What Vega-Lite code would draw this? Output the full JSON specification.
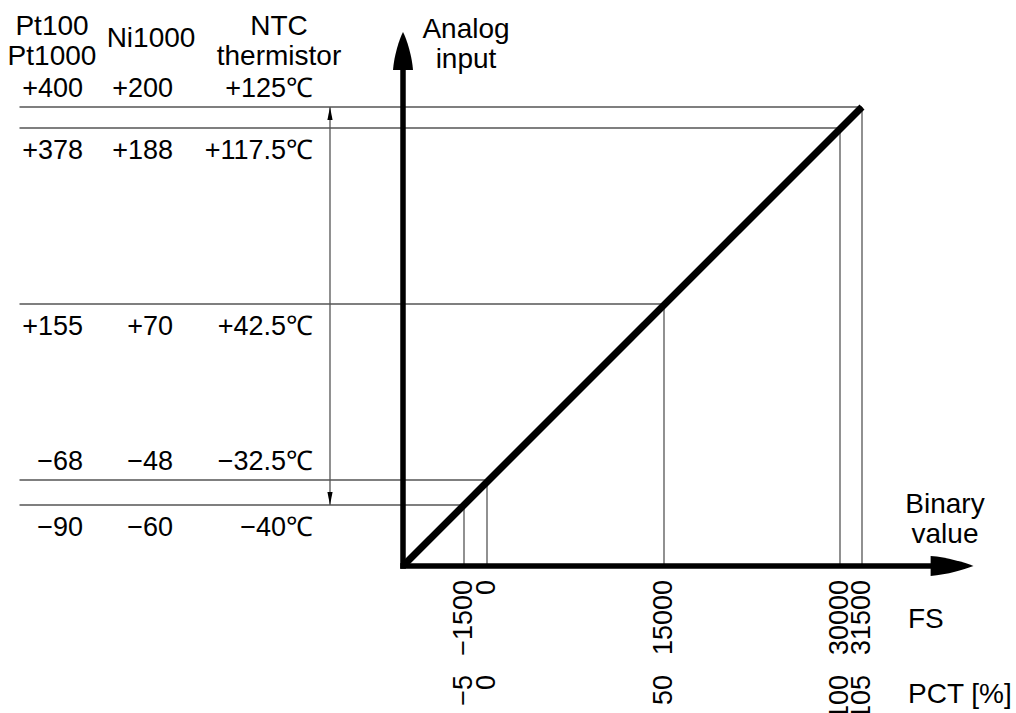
{
  "$schema": "https://vega.github.io/schema/vega-lite/v6.json",
  "width": 1016,
  "height": 713,
  "autosize": {"type": "fit", "contains": "padding"},
  "padding": 0,
  "background": "white",
  "view": {"stroke": null},
  "config": {"text": {"font": "Liberation Sans", "fontSize": 27, "color": "black"}},
  "datasets": {
    "levels": [
      {"fs": 31500, "pct": 105, "pt": "+400", "ni": "+200", "ntc": "+125℃"},
      {"fs": 30000, "pct": 100, "pt": "+378", "ni": "+188", "ntc": "+117.5℃"},
      {"fs": 15000, "pct": 50, "pt": "+155", "ni": "+70", "ntc": "+42.5℃"},
      {"fs": 0, "pct": 0, "pt": "−68", "ni": "−48", "ntc": "−32.5℃"},
      {"fs": -1500, "pct": -5, "pt": "−90", "ni": "−60", "ntc": "−40℃"}
    ]
  },
  "data": {"name": "levels"},
  "layer": [
    {
      "mark": {"type": "rule", "stroke": "#555", "strokeWidth": 1.3},
      "encoding": {
        "x": {"field": "fs", "type": "quantitative", "scale": {"domain": [-41387, -7139, -1500, 0, 15000, 30000, 31500, 44588], "range": [0, 403, 464, 487, 664, 840, 862, 1016], "nice": false, "zero": false}, "axis": null},
        "x2": {"datum": -39730},
        "y": {"field": "fs", "type": "quantitative", "scale": {"domain": [-19632, -7139, -1500, 0, 15000, 30000, 31500, 40593], "range": [713, 566, 505, 480, 304, 128, 107, 0], "nice": false, "zero": false}, "axis": null}
      }
    },
    {
      "mark": {"type": "rule", "stroke": "#555", "strokeWidth": 1.3},
      "encoding": {
        "x": {"field": "fs", "type": "quantitative", "axis": null},
        "y": {"field": "fs", "type": "quantitative", "axis": null},
        "y2": {"datum": -7139}
      }
    },
    {
      "data": {"values": [{}]},
      "mark": {"type": "rule", "stroke": "#555", "strokeWidth": 1.3},
      "encoding": {
        "x": {"datum": -13343, "type": "quantitative", "axis": null},
        "y": {"datum": 31500, "type": "quantitative", "axis": null},
        "y2": {"datum": -1500}
      }
    },
    {
      "data": {"values": [{}]},
      "mark": {"type": "point", "shape": "M0,0L0.4,2L-0.4,2Z", "size": 169, "filled": true, "fill": "black", "strokeWidth": 0, "opacity": 1},
      "encoding": {
        "x": {"datum": -13343, "type": "quantitative", "axis": null},
        "y": {"datum": 31500, "type": "quantitative", "axis": null}
      }
    },
    {
      "data": {"values": [{}]},
      "mark": {"type": "point", "shape": "M0,0L0.4,-2L-0.4,-2Z", "size": 169, "filled": true, "fill": "black", "strokeWidth": 0, "opacity": 1},
      "encoding": {
        "x": {"datum": -13343, "type": "quantitative", "axis": null},
        "y": {"datum": -1500, "type": "quantitative", "axis": null}
      }
    },
    {
      "data": {"values": [{}]},
      "mark": {"type": "rule", "stroke": "black", "strokeWidth": 5.5, "strokeCap": "square"},
      "encoding": {
        "x": {"datum": -7139, "type": "quantitative", "axis": null},
        "y": {"datum": -7139, "type": "quantitative", "axis": null},
        "y2": {"datum": 34474}
      }
    },
    {
      "data": {"values": [{}]},
      "mark": {"type": "rule", "stroke": "black", "strokeWidth": 5.5, "strokeCap": "square"},
      "encoding": {
        "x": {"datum": -7139, "type": "quantitative", "axis": null},
        "x2": {"datum": 37449},
        "y": {"datum": -7139, "type": "quantitative", "axis": null}
      }
    },
    {
      "data": {"values": [{}]},
      "mark": {"type": "point", "shape": "M0,-1C0.2,-0.6 0.45,0.2 0.5,0.9L-0.5,0.9C-0.45,0.2 -0.2,-0.6 0,-1Z", "size": 1600, "filled": true, "fill": "black", "strokeWidth": 0, "opacity": 1},
      "encoding": {
        "x": {"datum": -7139, "type": "quantitative", "axis": null},
        "y": {"datum": 36174, "type": "quantitative", "axis": null}
      }
    },
    {
      "data": {"values": [{}]},
      "mark": {"type": "point", "shape": "M1,0C0.6,-0.15 -0.2,-0.4 -0.95,-0.45L-0.95,0.45C-0.2,0.4 0.6,0.15 1,0Z", "size": 1936, "filled": true, "fill": "black", "strokeWidth": 0, "opacity": 1},
      "encoding": {
        "x": {"datum": 39106, "type": "quantitative", "axis": null},
        "y": {"datum": -7139, "type": "quantitative", "axis": null}
      }
    },
    {
      "data": {"values": [{}]},
      "mark": {"type": "rule", "stroke": "black", "strokeWidth": 7, "strokeCap": "butt"},
      "encoding": {
        "x": {"datum": -7139, "type": "quantitative", "axis": null},
        "y": {"datum": -7139, "type": "quantitative", "axis": null},
        "x2": {"datum": 31500},
        "y2": {"datum": 31500}
      }
    },
    {
      "transform": [{"filter": "datum.fs == 31500 || datum.fs == 0"}],
      "layer": [
        {
          "mark": {"type": "text", "align": "right", "baseline": "alphabetic", "dy": -10},
          "encoding": {
            "x": {"datum": -34333, "type": "quantitative", "axis": null},
            "y": {"field": "fs", "type": "quantitative", "axis": null},
            "text": {"field": "pt"}
          }
        },
        {
          "mark": {"type": "text", "align": "right", "baseline": "alphabetic", "dy": -10},
          "encoding": {
            "x": {"datum": -26685, "type": "quantitative", "axis": null},
            "y": {"field": "fs", "type": "quantitative", "axis": null},
            "text": {"field": "ni"}
          }
        },
        {
          "mark": {"type": "text", "align": "right", "baseline": "alphabetic", "dy": -10},
          "encoding": {
            "x": {"datum": -14787, "type": "quantitative", "axis": null},
            "y": {"field": "fs", "type": "quantitative", "axis": null},
            "text": {"field": "ntc"}
          }
        }
      ]
    },
    {
      "transform": [{"filter": "datum.fs != 31500 && datum.fs != 0"}],
      "layer": [
        {
          "mark": {"type": "text", "align": "right", "baseline": "alphabetic", "dy": 31},
          "encoding": {
            "x": {"datum": -34333, "type": "quantitative", "axis": null},
            "y": {"field": "fs", "type": "quantitative", "axis": null},
            "text": {"field": "pt"}
          }
        },
        {
          "mark": {"type": "text", "align": "right", "baseline": "alphabetic", "dy": 31},
          "encoding": {
            "x": {"datum": -26685, "type": "quantitative", "axis": null},
            "y": {"field": "fs", "type": "quantitative", "axis": null},
            "text": {"field": "ni"}
          }
        },
        {
          "mark": {"type": "text", "align": "right", "baseline": "alphabetic", "dy": 31},
          "encoding": {
            "x": {"datum": -14787, "type": "quantitative", "axis": null},
            "y": {"field": "fs", "type": "quantitative", "axis": null},
            "text": {"field": "ntc"}
          }
        }
      ]
    },
    {
      "mark": {"type": "text", "align": "right", "baseline": "middle", "angle": 270},
      "encoding": {
        "x": {"field": "fs", "type": "quantitative", "axis": null},
        "y": {"datum": -8329, "type": "quantitative", "axis": null},
        "text": {"field": "fs", "type": "quantitative", "format": "d"}
      }
    },
    {
      "mark": {"type": "text", "align": "right", "baseline": "middle", "angle": 270},
      "encoding": {
        "x": {"field": "fs", "type": "quantitative", "axis": null},
        "y": {"datum": -16402, "type": "quantitative", "axis": null},
        "text": {"field": "pct", "type": "quantitative", "format": "d"}
      }
    },
    {
      "data": {"values": [
        {"label": ["Pt100", "Pt1000"], "lx": -36968, "ly": 37619},
        {"label": ["Ni1000"], "lx": -28554, "ly": 36599},
        {"label": ["NTC", "thermistor"], "lx": -17677, "ly": 37619},
        {"label": ["Analog", "input"], "lx": -1370, "ly": 37364},
        {"label": ["Binary", "value"], "lx": 38554, "ly": -2240}
      ]},
      "mark": {"type": "text", "align": "center", "baseline": "alphabetic", "lineHeight": 30, "fontSize": 28},
      "encoding": {
        "x": {"field": "lx", "type": "quantitative", "axis": null},
        "y": {"field": "ly", "type": "quantitative", "axis": null},
        "text": {"field": "label"}
      }
    },
    {
      "data": {"values": [
        {"label": "FS", "lx": 35409, "ly": -12408},
        {"label": "PCT [%]", "lx": 35409, "ly": -18782}
      ]},
      "mark": {"type": "text", "align": "left", "baseline": "alphabetic", "fontSize": 28},
      "encoding": {
        "x": {"field": "lx", "type": "quantitative", "axis": null},
        "y": {"field": "ly", "type": "quantitative", "axis": null},
        "text": {"field": "label"}
      }
    }
  ]
}
